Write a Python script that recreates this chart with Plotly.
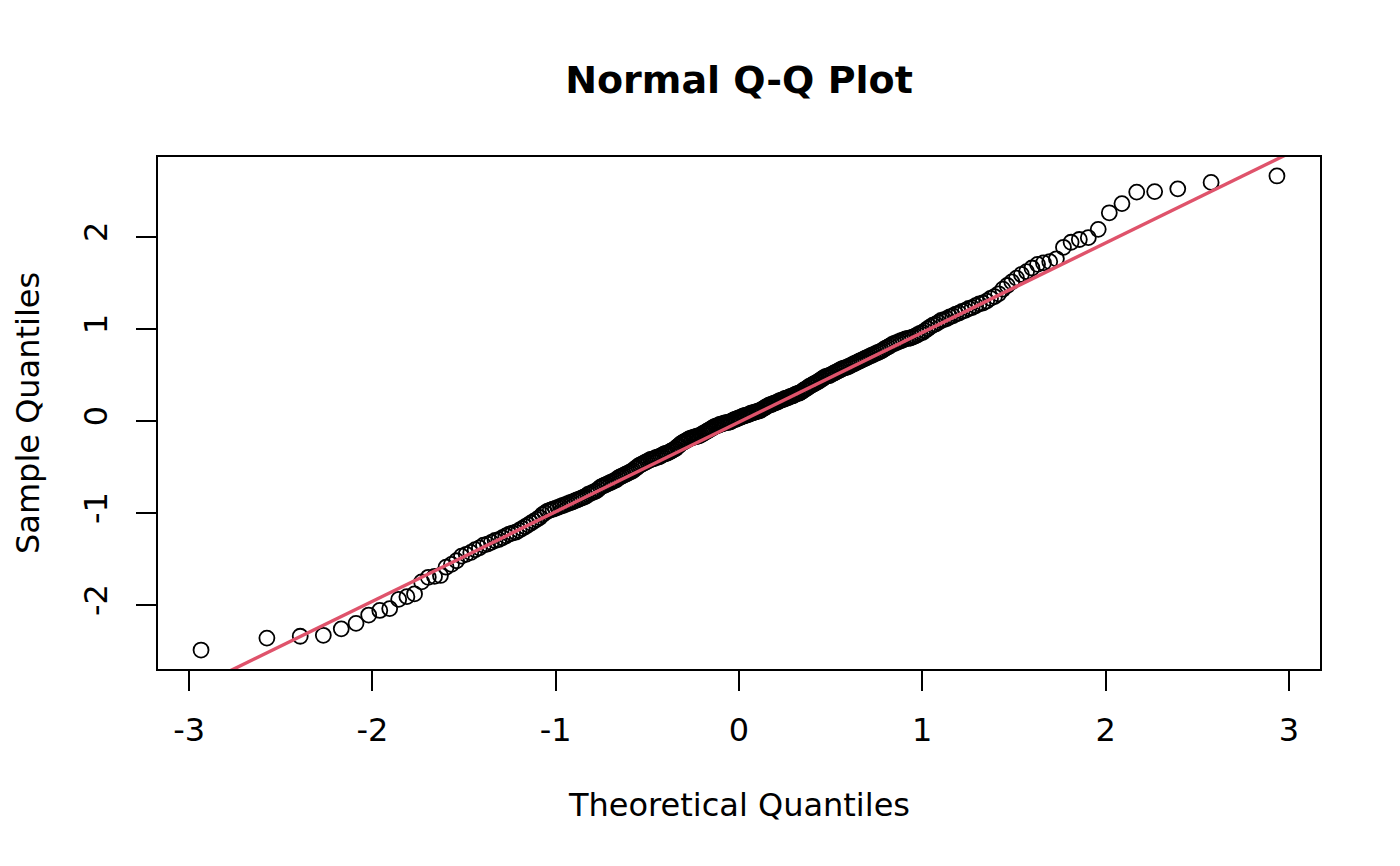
import plotly.graph_objects as go
from statistics import NormalDist

# sorted sample values (n = 300)
sample_quantiles = [
    -2.49, -2.36, -2.34, -2.33, -2.26, -2.20, -2.11, -2.06, -2.04, -1.94,
    -1.91, -1.88, -1.75, -1.70, -1.69, -1.68, -1.59, -1.56, -1.52, -1.47,
    -1.45, -1.43,
    -1.40, -1.38, -1.35, -1.34, -1.32, -1.30, -1.29, -1.27,
    -1.25, -1.23, -1.22, -1.21, -1.19,
    -1.17, -1.15, -1.13, -1.11, -1.09,
    -1.07, -1.05, -1.02, -1.00, -0.98,
    -0.97, -0.96, -0.95, -0.94, -0.93,
    -0.92, -0.91, -0.90, -0.89, -0.88,
    -0.87, -0.86, -0.85, -0.84, -0.83,
    -0.82, -0.80, -0.79, -0.78, -0.77,
    -0.76, -0.74, -0.72, -0.71, -0.70,
    -0.69, -0.68, -0.67, -0.66, -0.65,
    -0.64, -0.62, -0.61, -0.60, -0.59,
    -0.58, -0.57, -0.56, -0.55, -0.54,
    -0.52, -0.51, -0.49, -0.48, -0.47,
    -0.46, -0.45, -0.44, -0.43, -0.42,
    -0.415, -0.41, -0.40, -0.395, -0.39,
    -0.38, -0.37, -0.36, -0.355, -0.35,
    -0.34, -0.33, -0.32, -0.31, -0.30,
    -0.28, -0.27, -0.25, -0.24, -0.23,
    -0.22, -0.21, -0.20, -0.19, -0.185,
    -0.18, -0.175, -0.17, -0.165, -0.16,
    -0.15, -0.14, -0.13, -0.12, -0.11,
    -0.10, -0.09, -0.08, -0.07, -0.06,
    -0.055, -0.05, -0.04, -0.035, -0.03,
    -0.025, -0.02, -0.02, -0.015, -0.01,
    0.00, 0.01, 0.015, 0.02, 0.03,
    0.035, 0.04, 0.05, 0.055, 0.06,
    0.065, 0.07, 0.08, 0.085, 0.09,
    0.095, 0.10, 0.105, 0.11, 0.12,
    0.13, 0.14, 0.15, 0.16, 0.17,
    0.175, 0.18, 0.19, 0.195, 0.20,
    0.21, 0.22, 0.225, 0.23, 0.24,
    0.245, 0.25, 0.26, 0.265, 0.27,
    0.28, 0.29, 0.295, 0.30, 0.31,
    0.32, 0.335, 0.345, 0.355, 0.37,
    0.38, 0.39, 0.40, 0.41, 0.42,
    0.43, 0.445, 0.455, 0.47, 0.48,
    0.485, 0.49, 0.50, 0.51, 0.52,
    0.53, 0.54, 0.55, 0.56, 0.57,
    0.575, 0.58, 0.59, 0.60, 0.61,
    0.62, 0.63, 0.64, 0.65, 0.66,
    0.67, 0.68, 0.69, 0.70, 0.71,
    0.72, 0.73, 0.74, 0.75, 0.76,
    0.775, 0.79, 0.80, 0.815, 0.83,
    0.84, 0.85, 0.86, 0.87, 0.88,
    0.89, 0.895, 0.90, 0.91, 0.92,
    0.935, 0.95, 0.96, 0.98, 1.00,
    1.02, 1.04, 1.05, 1.07, 1.09,
    1.10, 1.11, 1.13, 1.14, 1.16,
    1.17, 1.19, 1.20, 1.22, 1.23,
    1.25, 1.27, 1.28, 1.30, 1.33, 1.35, 1.38, 1.43, 1.47, 1.51,
    1.55, 1.59, 1.62, 1.66, 1.70, 1.715, 1.73, 1.76, 1.885,
    1.94, 1.97, 1.99, 2.08, 2.26, 2.36, 2.485, 2.49, 2.52, 2.59, 2.66,
]

# reference line (qqline)
line_intercept = -0.014
line_slope = 0.973

x_tick_vals = [-3, -2, -1, 0, 1, 2, 3]
x_tick_labels = ["-3", "-2", "-1", "0", "1", "2", "3"]
y_tick_vals = [-2, -1, 0, 1, 2]
y_tick_labels = ["-2", "-1", "0", "1", "2"]

# theoretical quantiles, same rule as R's qqnorm: ppoints (i - 0.5) / n
n = len(sample_quantiles)
theoretical = [NormalDist().inv_cdf((i + 0.5) / n) for i in range(n)]

def padded(lo, hi):
    # R pads the data range by 4% on each side
    ext = (hi - lo) * 0.04
    return [lo - ext, hi + ext]

x_range = padded(min(theoretical), max(theoretical))
y_range = padded(min(sample_quantiles), max(sample_quantiles))

line_x = x_range
line_y = [line_intercept + line_slope * v for v in line_x]

FONT = "DejaVu Sans"

fig = go.Figure()
fig.add_trace(go.Scatter(
    x=theoretical, y=sample_quantiles, mode="markers",
    marker=dict(symbol="circle-open", size=15, color="black",
                line=dict(width=1.8, color="black")),
    hoverinfo="x+y", showlegend=False,
))
fig.add_trace(go.Scatter(
    x=line_x, y=line_y, mode="lines",
    line=dict(color="#DF536B", width=3.4),
    hoverinfo="skip", showlegend=False,
))

axis_common = dict(
    showgrid=False, zeroline=False,
    showline=True, mirror=True, linecolor="black", linewidth=1.5,
    ticks="outside", ticklen=20, tickwidth=1.5, tickcolor="black",
    tickfont=dict(family=FONT, size=32, color="black"),
)

fig.update_xaxes(range=x_range, tickvals=x_tick_vals, ticktext=x_tick_labels,
                 ticklabelstandoff=12, **axis_common)
fig.update_yaxes(range=y_range, tickvals=y_tick_vals, ticktext=y_tick_labels,
                 tickangle=-90, ticklabelstandoff=16, **axis_common)

fig.update_layout(
    width=1400, height=866,
    margin=dict(l=150, r=88, t=149, b=205),
    paper_bgcolor="white", plot_bgcolor="white",
    title=dict(text="<b>Normal Q-Q Plot</b>",
               x=(739 - 8) / 1400, xanchor="center",
               y=1 - 72 / 866, yanchor="middle",
               font=dict(family=FONT, size=38, color="black")),
    annotations=[
        dict(text="Theoretical Quantiles", xref="paper", yref="paper",
             x=0.5, y=-(805 - 669) / 512, xanchor="center", yanchor="middle",
             showarrow=False, font=dict(family=FONT, size=32, color="black")),
        dict(text="Sample Quantiles", xref="paper", yref="paper",
             x=-(158 - 28) / 1162, y=0.5, xanchor="center", yanchor="middle",
             textangle=-90, showarrow=False,
             font=dict(family=FONT, size=32, color="black")),
    ],
)

fig.write_html("out.html")
